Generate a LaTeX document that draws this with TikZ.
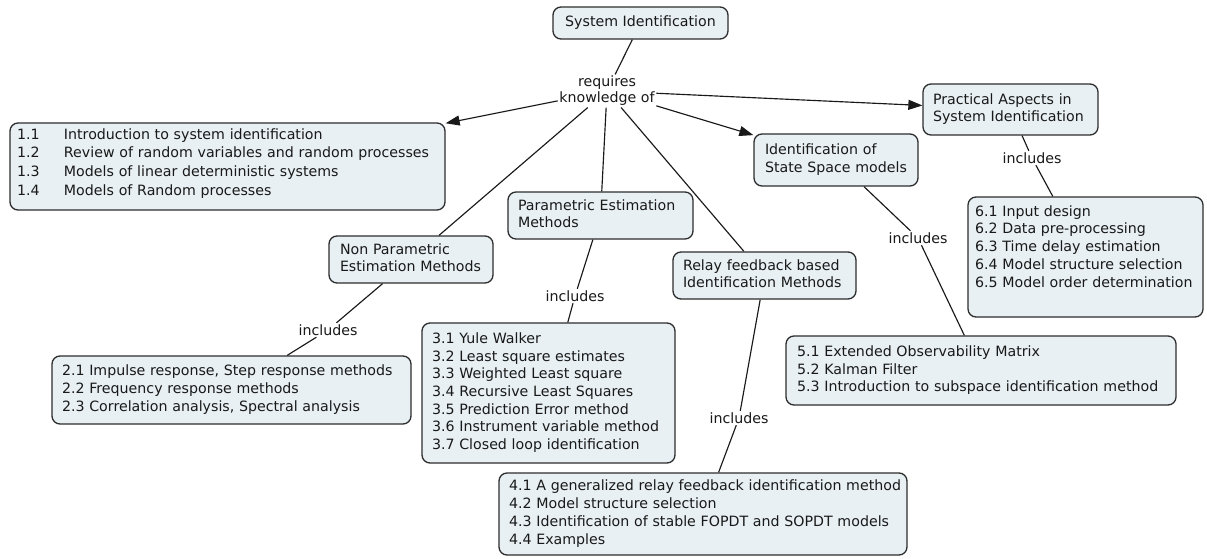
\documentclass[tikz,border=0pt]{standalone}
\usepackage{fontspec}
\setmainfont{DejaVu Sans}
\usetikzlibrary{arrows.meta}

\definecolor{boxfill}{RGB}{232,240,243}
\definecolor{boxline}{RGB}{45,45,45}
\definecolor{ink}{RGB}{25,25,25}

% rows of a box, kept on one line each
\newcommand{\rows}[1]{\begin{tabular}{@{}l@{}}#1\end{tabular}}

\tikzset{
  cbox/.style={draw=boxline, fill=boxfill, line width=1.3pt, rounded corners=8pt,
    align=left, inner ysep=2pt, text=ink,
    font=\fontsize{14.2}{17.7}\selectfont},
  lab/.style={inner sep=1.5pt, text=ink, align=center,
    font=\fontsize{14.2}{16}\selectfont},
  link/.style={draw=ink, line width=1.15pt},
  tip/.style={-{Triangle[length=14pt,width=10pt]}},
}

\begin{document}
\begin{tikzpicture}[x=1pt,y=-1pt]
\fill[white] (0,0) rectangle (1207,559);
\useasboundingbox (0,0) rectangle (1207,559);

% concepts
\node[cbox, align=center, minimum width=175pt, minimum height=32pt] (sys) at (640.5,23) {System Identification};

\node[cbox, minimum width=435pt, minimum height=87pt, inner xsep=7pt, text width=421pt,
      font=\fontsize{14.2}{18.6}\selectfont] (b1) at (227.5,166.5)
  {\rows{\makebox[47pt][l]{1.1}Introduction to system identification\\
         \makebox[47pt][l]{1.2}Review of random variables and random processes\\
         \makebox[47pt][l]{1.3}Models of linear deterministic systems\\
         \makebox[47pt][l]{1.4}Models of Random processes\rule[-11.6pt]{0pt}{11.6pt}}};

\node[cbox, minimum width=175pt, minimum height=51pt, inner xsep=10pt, text width=155pt] (prac) at (1010.5,109.5)
  {\rows{Practical Aspects in\\System Identification}};

\node[cbox, minimum width=164pt, minimum height=52pt, inner xsep=11pt, text width=142pt] (state) at (836,160)
  {\rows{Identification of\\State Space models}};

\node[cbox, minimum width=185pt, minimum height=47pt, inner xsep=10pt, text width=165pt] (param) at (600.5,215.5)
  {\rows{Parametric Estimation\\Methods}};

\node[cbox, minimum width=164pt, minimum height=47pt, inner xsep=11pt, text width=142pt] (nonp) at (411,259.5)
  {\rows{Non Parametric\\Estimation Methods}};

\node[cbox, minimum width=183pt, minimum height=47pt, inner xsep=10pt, text width=163pt] (relay) at (764.5,275.5)
  {\rows{Relay feedback based\\Identification Methods}};

\node[cbox, minimum width=235pt, minimum height=120pt, inner xsep=7pt, text width=221pt] (b6) at (1085.5,257)
  {\rows{6.1 Input design\\
         6.2 Data pre-processing\\
         6.3 Time delay estimation\\
         6.4 Model structure selection\\
         6.5 Model order determination\\
         {}}};

\node[cbox, minimum width=390pt, minimum height=69pt, inner xsep=11pt, text width=368pt] (b5) at (981,370.5)
  {\rows{5.1 Extended Observability Matrix\\
         5.2 Kalman Filter\\
         5.3 Introduction to subspace identification method}};

\node[cbox, minimum width=359pt, minimum height=68pt, inner xsep=10pt, text width=339pt] (b2) at (231.5,390)
  {\rows{2.1 Impulse response, Step response methods\\
         2.2 Frequency response methods\\
         2.3 Correlation analysis, Spectral analysis}};

\node[cbox, minimum width=253pt, minimum height=140pt, inner xsep=10pt, text width=233pt] (b3) at (548.5,393)
  {\rows{3.1 Yule Walker\\
         3.2 Least square estimates\\
         3.3 Weighted Least square\\
         3.4 Recursive Least Squares\\
         3.5 Prediction Error method\\
         3.6 Instrument variable method\\
         3.7 Closed loop identification}};

\node[cbox, minimum width=408pt, minimum height=82pt, inner xsep=10pt, text width=388pt] (b4) at (703,514)
  {\rows{4.1 A generalized relay feedback identification method\\
         4.2 Model structure selection\\
         4.3 Identification of stable FOPDT and SOPDT models\\
         4.4 Examples}};

% linking phrases
\node[lab] (lk) at (607,91) {requires\\knowledge of};
\node[lab] (inc1) at (1032,158) {includes};
\node[lab] (inc2) at (918,238) {includes};
\node[lab] (inc3) at (575,296) {includes};
\node[lab] (inc4) at (328,330) {includes};
\node[lab] (inc5) at (739,418) {includes};

% connections
\draw[link] (sys) -- (lk);
\draw[link,tip] (lk) -- (b1);
\draw[link,tip] (lk) -- (state);
\draw[link,tip] (lk) -- (prac);
\draw[link] (lk) -- (nonp);
\draw[link] (lk) -- (param);
\draw[link] (lk) -- (relay);

\draw[link] (prac) -- (inc1);
\draw[link] (inc1) -- (b6);
\draw[link] (state) -- (inc2);
\draw[link] (inc2) -- (b5);
\draw[link] (param) -- (inc3);
\draw[link] (inc3) -- (b3);
\draw[link] (nonp) -- (inc4);
\draw[link] (inc4) -- (b2);
\draw[link] (relay) -- (inc5);
\draw[link] (inc5) -- (b4);
\end{tikzpicture}
\end{document}
